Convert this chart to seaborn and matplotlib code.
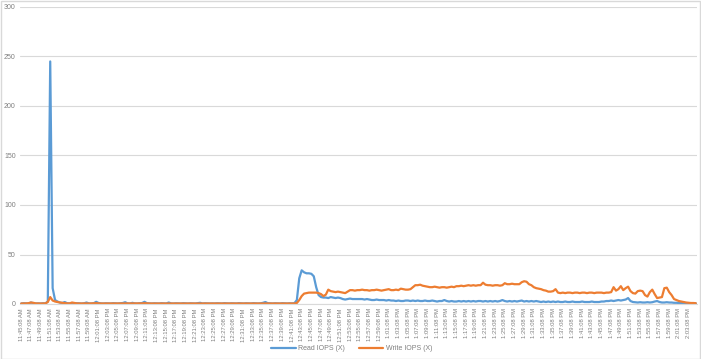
import numpy as np
import pandas as pd
import matplotlib
matplotlib.use("Agg")
import matplotlib.pyplot as plt
from matplotlib.patches import Rectangle
import seaborn as sns

read_iops = [
    0.5, 0.8, 0.6, 0.5, 1.5, 0.8, 0.5, 0.6, 0.5, 0.7,
    0.6, 2.5, 245, 16, 4, 2.5, 1.5, 1.0, 2.0, 0.8,
    0.6, 0.7, 0.5, 0.8, 0.6, 0.5, 0.7, 1.5, 0.6, 0.5,
    0.8, 2.2, 1.0, 0.6, 0.5, 0.7, 0.6, 0.5, 0.8, 0.6,
    0.5, 0.7, 1.0, 1.8, 0.6, 0.5, 1.2, 0.6, 0.5, 0.7,
    1.0, 2.2, 0.8, 0.6, 0.5, 0.7, 0.6, 0.5, 0.8, 0.6,
    0.5, 1.5, 0.6, 0.5, 0.7, 0.6, 0.5, 0.8, 0.6, 0.5,
    0.7, 0.6, 0.5, 0.8, 1.2, 0.5, 0.7, 0.6, 0.5, 0.6,
    0.5, 0.7, 0.6, 0.5, 0.8, 0.6, 0.5, 0.7, 0.6, 0.5,
    0.8, 0.6, 0.5, 0.7, 0.6, 0.5, 0.8, 0.6, 0.5, 0.7,
    1.2, 2.0, 0.8, 0.6, 0.5, 0.7, 0.6, 0.5, 0.8, 0.6,
    0.5, 0.7, 0.6, 0.8, 4.0, 26, 34, 32, 31, 31,
    30.5, 28, 17, 9, 7, 6.5, 6.5, 6, 7, 6.5,
    6, 6.5, 6, 5, 4.5, 5, 5.5, 5, 5, 5,
    5, 5, 4.5, 5, 4.5, 4, 4, 4.5, 4, 4,
    4, 3.5, 4, 3.5, 3.5, 3, 3.5, 3, 3, 3.5,
    3.5, 3, 3.5, 3, 3.5, 3, 3, 3.5, 3, 3,
    3.5, 3, 2.5, 3, 3, 4, 3, 2.5, 3, 2.5,
    2.5, 3, 2.5, 3, 2.5, 3, 2.5, 3, 2.5, 3,
    3, 2.5, 3, 2.5, 3, 2.5, 3, 2.5, 3, 4,
    3, 2.5, 3, 2.5, 3, 2.5, 3, 3.5, 2.5, 3,
    2.5, 3, 2.5, 3, 2.5, 2, 2.5, 2, 2.5, 2,
    2.5, 2, 2.5, 2, 2, 2.5, 2, 2, 2.5, 2,
    2, 2, 2.5, 2, 2, 2, 2.5, 2, 2, 2,
    2.5, 2.5, 3, 3, 3.5, 3, 3.5, 4, 3.5, 4,
    4.5, 6, 3, 2, 1.8, 1.5, 1.8, 1.5, 1.5, 1.8,
    1.5, 1.8, 2.5, 3, 2, 1.5, 1.5, 1.8, 1.5, 1.5,
    1.2, 1.2, 1.0, 1.0, 0.8, 0.8, 0.8, 0.7, 0.6, 0.6,
]

write_iops = [
    0.5, 0.5, 0.6, 0.8, 1.5, 1.2, 0.6, 0.5, 0.5, 0.6,
    0.6, 2, 7, 3.5, 2.5, 2, 1.5, 1.2, 0.8, 0.6,
    0.6, 1.5, 1.0, 0.6, 0.5, 0.5, 0.6, 0.5, 0.5, 0.6,
    0.6, 0.8, 0.6, 0.5, 0.5, 0.6, 0.5, 0.5, 0.6, 0.5,
    0.5, 0.6, 0.5, 0.5, 0.6, 0.5, 0.5, 0.6, 0.5, 0.5,
    0.6, 0.8, 0.6, 0.5, 0.5, 0.6, 0.5, 0.5, 0.6, 0.5,
    0.5, 0.6, 0.5, 0.5, 0.6, 0.5, 0.5, 0.6, 0.5, 0.5,
    0.6, 0.5, 0.5, 0.6, 0.5, 0.5, 0.6, 0.5, 0.5, 0.6,
    0.5, 0.5, 0.6, 0.5, 0.5, 0.6, 0.5, 0.5, 0.6, 0.5,
    0.5, 0.6, 0.5, 0.5, 0.6, 0.5, 0.5, 0.6, 0.5, 0.5,
    0.6, 0.5, 0.5, 0.6, 0.5, 0.5, 0.6, 0.5, 0.5, 0.6,
    0.5, 0.5, 0.6, 0.5, 1.0, 4, 8, 10.5, 11, 11.5,
    11.5, 11.5, 11.5, 11, 10, 8, 9.5, 14.5, 13, 12.5,
    12, 12.5, 12, 11.5, 11, 12.5, 14, 14, 13.5, 14,
    14, 14.5, 14, 14, 13.5, 14, 14, 14.5, 14, 13.5,
    14, 14.5, 15, 14, 14, 14.5, 14, 15.5, 15, 14.5,
    14.5, 15, 17, 19, 19, 19.5, 18.5, 18, 17.5, 17,
    17, 17.5, 17, 16.5, 17, 17, 16.5, 17, 17.5, 17,
    18, 18, 18.5, 18, 18.5, 19, 18.5, 19, 18.5, 19,
    19, 21.5, 19.5, 19, 19, 18.5, 19, 19, 18.5, 19,
    21, 20, 20, 20.5, 20, 20, 20, 22, 23, 22.5,
    20, 19, 17, 16, 15.5, 15, 14, 13.5, 12.5, 12.5,
    13, 15, 11.5, 11, 11.5, 11, 11.5, 11.5, 11, 11.5,
    11.5, 11, 11.5, 11.5, 11, 11.5, 11.5, 11, 11.5, 11.5,
    11.5, 11, 11.5, 11.5, 12, 17, 13.5, 15, 18, 14,
    16, 17.5, 13, 11, 10.5, 13, 13.5, 13, 9, 7.5,
    12, 14.5, 10, 6, 6.5, 7, 16, 16.5, 12, 9,
    5, 4, 3, 2.5, 2, 1.5, 1.2, 1.0, 1.0, 0.8,
]

series_names = ["Read IOPS (X)", "Write IOPS (X)"]
series_colors = ["#5B9BD5", "#ED7D31"]
start_time = "2020-01-01 11:45:08"
sample_freq = "30s"
tick_every = 4
y_ticks = [0, 50, 100, 150, 200, 250, 300]

n = len(read_iops)
times = pd.date_range(start_time, periods=n, freq=sample_freq)
time_labels = [t.strftime("%-I:%M:%S %p") for t in times]

df = pd.DataFrame({"idx": np.arange(n),
                   series_names[0]: read_iops,
                   series_names[1]: write_iops})
long = df.melt(id_vars="idx", var_name="series", value_name="value")

sns.set_theme(style="white")
plt.rcParams["font.family"] = ["Liberation Sans", "DejaVu Sans"]

W, H = 701, 359
fig = plt.figure(figsize=(W / 100, H / 100), dpi=100)
ax = fig.add_axes([20 / W, 1 - 304 / H, 677 / W, 297 / H])

sns.lineplot(data=long, x="idx", y="value", hue="series",
             palette=series_colors, linewidth=1.6, ax=ax)

ax.set_xlim(-0.5, n - 0.5)
ax.set_ylim(0, 300)
ax.set_yticks(y_ticks)
ax.set_yticklabels([str(v) for v in y_ticks], fontsize=5, color="#7F7F7F")
ax.yaxis.grid(True, color="#D9D9D9", linewidth=0.8)
ax.set_axisbelow(True)

tick_pos = np.arange(0, n, tick_every)
ax.set_xticks(tick_pos)
ax.set_xticklabels([time_labels[i] for i in tick_pos], rotation=90,
                   fontsize=4.2, color="#7F7F7F")
ax.tick_params(axis="both", length=0, pad=3)
ax.set_xlabel("")
ax.set_ylabel("")
for side in ["top", "right", "left"]:
    ax.spines[side].set_visible(False)
ax.spines["bottom"].set_color("#D9D9D9")
ax.spines["bottom"].set_linewidth(0.8)

handles, labels = ax.get_legend_handles_labels()
ax.legend(handles, labels, loc="center", ncol=2, frameon=False,
          bbox_to_anchor=(352 / W, 1 - 349 / H), bbox_transform=fig.transFigure,
          fontsize=5, handlelength=3.5, columnspacing=2.0, handletextpad=0.4,
          labelcolor="#7F7F7F")

fig.add_artist(Rectangle((0.5 / W, 0.5 / H), 1 - 1.5 / W, 1 - 1.5 / H,
                         transform=fig.transFigure, fill=False,
                         edgecolor="#D9D9D9", linewidth=1))

fig.savefig("out.png", dpi=100)
